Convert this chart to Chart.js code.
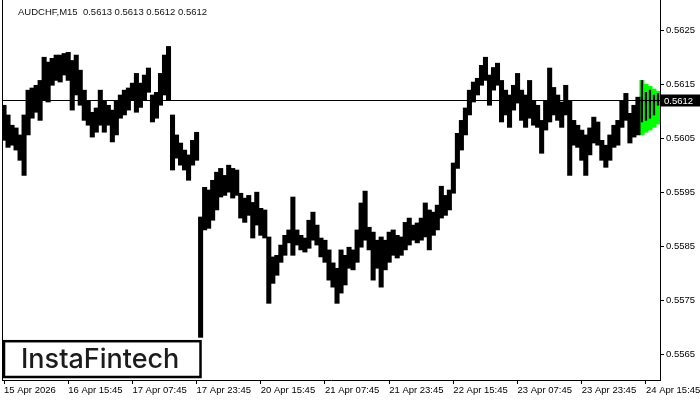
<!DOCTYPE html>
<html>
<head>
<meta charset="utf-8">
<script src="https://cdn.jsdelivr.net/npm/chart.js@4.4.1/dist/chart.umd.min.js"></script>
<style>
  html, body { margin: 0; padding: 0; background: #fff; }
  #wrap { width: 700px; height: 400px; }
</style>
</head>
<body>
<div id="wrap"><canvas id="priceChart"></canvas></div>
<script>
var symbol = 'AUDCHF,M15';
var headerOhlc = [0.5613, 0.5613, 0.5612, 0.5612];
var bidPrice = 0.5612;
var brand = 'InstaFintech';

var dateLabels = ['15 Apr 2026', '16 Apr 15:45', '17 Apr 07:45', '17 Apr 23:45', '20 Apr 15:45',
    '21 Apr 07:45', '21 Apr 23:45', '22 Apr 15:45', '23 Apr 07:45', '23 Apr 23:45', '24 Apr 15:45'];
var labelStep = 16;

var highs = [
    0.56111, 0.56093, 0.56074, 0.56069, 0.56056, 0.56093, 0.56139, 0.56143, 0.56148, 0.56157,
    0.56200, 0.56191, 0.56198, 0.56204, 0.56204, 0.56207, 0.56209, 0.56194, 0.56204, 0.56176,
    0.56139, 0.56120, 0.56098, 0.56106, 0.56139, 0.56120, 0.56111, 0.56102, 0.56120, 0.56130,
    0.56139, 0.56143, 0.56152, 0.56170, 0.56152, 0.56167, 0.56180, 0.56130, 0.56135, 0.56170,
    0.56204, 0.56220, 0.56093, 0.56056, 0.56041, 0.56028, 0.56019, 0.56046, 0.56061, 0.55904,
    0.55959, 0.55954, 0.55972, 0.55987, 0.55994, 0.55981, 0.56000, 0.55994, 0.55991, 0.55948,
    0.55939, 0.55944, 0.55931, 0.55950, 0.55920, 0.55917, 0.55867, 0.55830, 0.55833, 0.55852,
    0.55870, 0.55880, 0.55941, 0.55880, 0.55870, 0.55865, 0.55898, 0.55913, 0.55889, 0.55865,
    0.55861, 0.55843, 0.55819, 0.55809, 0.55843, 0.55833, 0.55848, 0.55843, 0.55880, 0.55930,
    0.55952, 0.55885, 0.55876, 0.55861, 0.55867, 0.55861, 0.55876, 0.55880, 0.55870, 0.55867,
    0.55894, 0.55902, 0.55889, 0.55893, 0.55902, 0.55930, 0.55917, 0.55913, 0.55926, 0.55961,
    0.55944, 0.55954, 0.56004, 0.56059, 0.56083, 0.56106, 0.56139, 0.56154, 0.56161, 0.56185,
    0.56200, 0.56167, 0.56181, 0.56189, 0.56157, 0.56139, 0.56130, 0.56148, 0.56170, 0.56139,
    0.56130, 0.56157, 0.56120, 0.56111, 0.56083, 0.56120, 0.56180, 0.56144, 0.56130, 0.56117,
    0.56148, 0.56120, 0.56083, 0.56074, 0.56065, 0.56056, 0.56069, 0.56089, 0.56080, 0.56046,
    0.56037, 0.56056, 0.56074, 0.56083, 0.56120, 0.56133, 0.56096, 0.56111, 0.56126, 0.56157,
    0.56135, 0.56139, 0.56130, 0.56133
];
var lows = [
    0.56046, 0.56033, 0.56037, 0.56028, 0.56009, 0.55981, 0.56056, 0.56087, 0.56098, 0.56083,
    0.56120, 0.56117, 0.56148, 0.56157, 0.56154, 0.56167, 0.56157, 0.56102, 0.56130, 0.56111,
    0.56083, 0.56074, 0.56052, 0.56061, 0.56074, 0.56061, 0.56074, 0.56043, 0.56056, 0.56087,
    0.56093, 0.56102, 0.56120, 0.56098, 0.56107, 0.56120, 0.56135, 0.56080, 0.56087, 0.56111,
    0.56130, 0.56120, 0.55991, 0.56013, 0.56000, 0.55991, 0.55972, 0.56000, 0.56009, 0.55681,
    0.55880, 0.55883, 0.55898, 0.55917, 0.55941, 0.55944, 0.55950, 0.55939, 0.55944, 0.55902,
    0.55894, 0.55907, 0.55865, 0.55889, 0.55870, 0.55865, 0.55744, 0.55781, 0.55796, 0.55820,
    0.55833, 0.55856, 0.55833, 0.55852, 0.55843, 0.55839, 0.55846, 0.55861, 0.55852, 0.55830,
    0.55820, 0.55787, 0.55774, 0.55744, 0.55763, 0.55778, 0.55809, 0.55806, 0.55820, 0.55848,
    0.55861, 0.55843, 0.55787, 0.55809, 0.55774, 0.55806, 0.55820, 0.55833, 0.55828, 0.55833,
    0.55843, 0.55852, 0.55861, 0.55856, 0.55861, 0.55867, 0.55843, 0.55870, 0.55880, 0.55902,
    0.55907, 0.55917, 0.55948, 0.55994, 0.56028, 0.56056, 0.56093, 0.56117, 0.56130, 0.56148,
    0.56157, 0.56111, 0.56139, 0.56148, 0.56080, 0.56093, 0.56070, 0.56102, 0.56115, 0.56083,
    0.56070, 0.56087, 0.56074, 0.56070, 0.56022, 0.56065, 0.56080, 0.56093, 0.56083, 0.56070,
    0.56093, 0.55981, 0.56037, 0.56033, 0.56009, 0.55981, 0.56019, 0.56041, 0.56037, 0.56009,
    0.55996, 0.56009, 0.56033, 0.56037, 0.56070, 0.56083, 0.56041, 0.56052, 0.56056, 0.56080,
    0.56083, 0.56087, 0.56093, 0.56111
];

var yTicks = [0.5565, 0.5575, 0.5585, 0.5595, 0.5605, 0.5615, 0.5625];
var yMin = 0.55602, yMax = 0.56306;

// green flag pattern, one step per bar from flagStart
var flagStart = 159;
var flagHigh = [0.56157, 0.56150, 0.56146, 0.56141, 0.56137];
var flagLow = [0.56056, 0.56061, 0.56065, 0.56070, 0.56076];

var labels = highs.map(function(_, i) {
    return i % labelStep === 0 ? dateLabels[i / labelStep] : '';
});
// bars before the flag are drawn full width, bars inside it thin so the flag shows through
var ranges = lows.map(function(l, i) { return i < flagStart ? [l, highs[i]] : null; });
var flagBars = lows.map(function(l, i) { return i >= flagStart ? [l, highs[i]] : null; });
var flagRanges = highs.map(function(_, i) {
    var k = i - flagStart;
    return k >= 0 && k < flagHigh.length ? [flagLow[k], flagHigh[k]] : null;
});

var uiFont = '"Liberation Sans", Arial, sans-serif';

var overlay = {
    id: 'overlay',
    afterDraw: function(chart) {
        var ctx = chart.ctx, area = chart.chartArea, y = chart.scales.y;
        ctx.save();
        ctx.strokeStyle = '#000';
        ctx.lineWidth = 1;
        // left frame
        ctx.beginPath();
        ctx.moveTo(area.left + 0.5, area.top);
        ctx.lineTo(area.left + 0.5, area.bottom);
        ctx.stroke();
        // bid line
        var py = Math.round(y.getPixelForValue(bidPrice)) + 0.5;
        ctx.beginPath();
        ctx.moveTo(area.left, py);
        ctx.lineTo(area.right, py);
        ctx.stroke();
        // bid label
        ctx.fillStyle = '#000';
        ctx.fillRect(area.right + 1, py - 6, chart.width - area.right - 1, 12);
        ctx.fillStyle = '#fff';
        ctx.font = '9.5px ' + uiFont;
        ctx.textBaseline = 'middle';
        ctx.textAlign = 'left';
        ctx.fillText(bidPrice.toFixed(4), area.right + 4, py + 0.5);
        // header
        ctx.fillStyle = '#111';
        ctx.fillText(symbol + '  ' + headerOhlc.map(function(v) { return v.toFixed(4); }).join(' '), 18, 12);
        // brand box
        ctx.fillStyle = '#fff';
        ctx.fillRect(4, 341, 197, 36);
        ctx.lineWidth = 2.5;
        ctx.strokeRect(4, 341.2, 196.5, 35.8);
        ctx.fillStyle = '#1c1c1c';
        ctx.font = '500 27px Inter, "Open Sans", sans-serif';
        ctx.textBaseline = 'alphabetic';
        ctx.fillText(brand, 21, 368);
        ctx.restore();
    }
};

var ctx = document.getElementById('priceChart').getContext('2d');
var chart = new Chart(ctx, {
    type: 'bar',
    data: {
        labels: labels,
        datasets: [{
            data: ranges,
            backgroundColor: '#000',
            borderWidth: 0,
            barThickness: 4.4,
            grouped: false,
            order: 0
        }, {
            data: flagBars,
            backgroundColor: '#000',
            borderWidth: 0,
            barThickness: 1.6,
            grouped: false,
            order: 0
        }, {
            data: flagRanges,
            backgroundColor: '#00ff00',
            borderWidth: 0,
            barThickness: 4.4,
            grouped: false,
            order: 1
        }]
    },
    options: {
        responsive: true,
        maintainAspectRatio: false,
        animation: false,
        layout: { padding: { left: 2, top: 0, right: 0, bottom: 0 } },
        datasets: { bar: { barPercentage: 1, categoryPercentage: 1, grouped: false } },
        plugins: {
            legend: { display: false },
            tooltip: { enabled: false }
        },
        scales: {
            x: {
                type: 'category',
                offset: true,
                grid: { display: true, drawOnChartArea: false, offset: false, tickLength: 4, color: '#000' },
                border: { display: true, color: '#000', width: 1 },
                ticks: {
                    autoSkip: false, maxRotation: 0, minRotation: 0, align: 'start',
                    padding: 1, color: '#000', font: { family: uiFont, size: 9.5 }
                },
                afterBuildTicks: function(axis) {
                    axis.ticks = axis.ticks.filter(function(t) { return labels[t.value] !== ''; });
                },
                afterFit: function(axis) { axis.height = 20; axis.paddingLeft = 0; axis.paddingRight = 0; }
            },
            y: {
                position: 'right',
                min: yMin,
                max: yMax,
                grid: { display: true, drawOnChartArea: false, tickLength: 4, color: '#000' },
                border: { display: true, color: '#000', width: 1 },
                ticks: {
                    padding: 2, color: '#000', font: { family: uiFont, size: 9.5 },
                    callback: function(v) { return Number(v).toFixed(4); }
                },
                afterBuildTicks: function(axis) {
                    axis.ticks = yTicks.map(function(v) { return { value: v }; });
                },
                afterFit: function(axis) { axis.width = 40; axis.paddingTop = 0; axis.paddingBottom = 0; }
            }
        }
    },
    plugins: [overlay]
});
</script>
</body>
</html>
